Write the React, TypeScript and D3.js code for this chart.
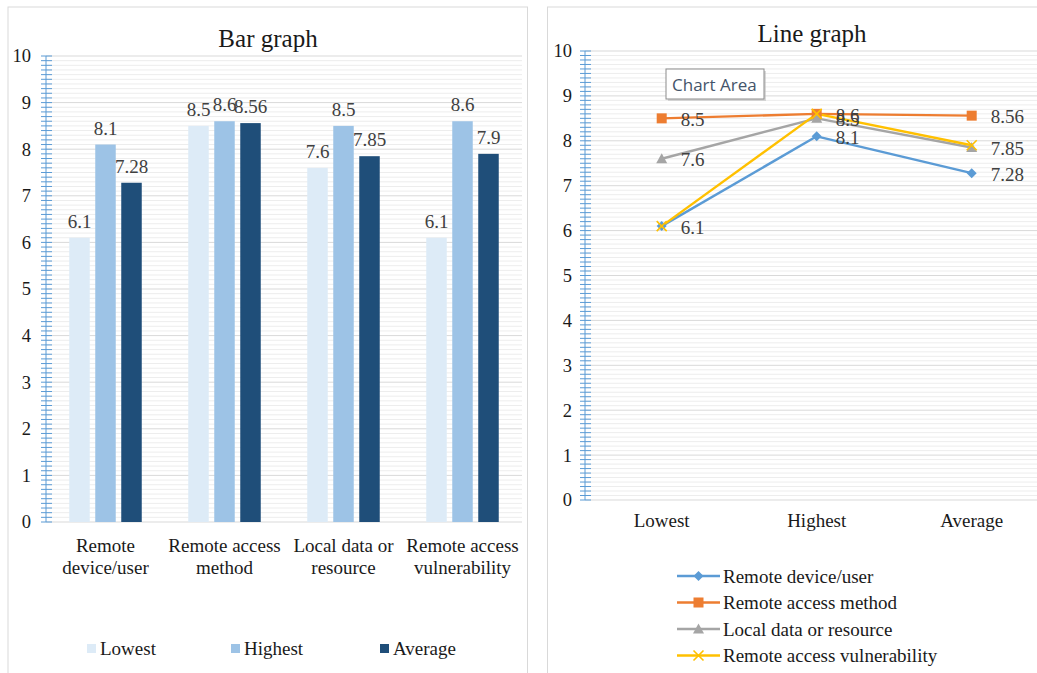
import React from "react";
import * as d3 from "d3";

const barCategories = [["Remote", "device/user"], ["Remote access", "method"], ["Local data or", "resource"], ["Remote access", "vulnerability"]];
const barSeriesNames = ["Lowest", "Highest", "Average"];
const lowestVals = [6.1, 8.5, 7.6, 6.1];
const highestVals = [8.1, 8.6, 8.5, 8.6];
const averageVals = [7.28, 8.56, 7.85, 7.9];
const barColors = ["#DDEBF7", "#9DC3E6", "#1F4E79"];

const lineCategories = ["Lowest", "Highest", "Average"];
const lineSeriesNames = ["Remote device/user", "Remote access method", "Local data or resource", "Remote access vulnerability"];
const remoteDeviceVals = [6.1, 8.1, 7.28];
const remoteMethodVals = [8.5, 8.6, 8.56];
const localDataVals = [7.6, 8.5, 7.85];
const remoteVulnVals = [6.1, 8.6, 7.9];
const lineColors = ["#5B9BD5", "#ED7D31", "#A5A5A5", "#FFC000"];
const yTicks = [0, 1, 2, 3, 4, 5, 6, 7, 8, 9, 10];

const FONT = "'Liberation Serif', 'Times New Roman', serif";
const TXT = "#1a1a1a";
const LBL = "#404040";
const AXIS = "#5B9BD5";

function Marker({ kind, x, y, color }: { kind: number; x: number; y: number; color: string }) {
  if (kind === 0) {
    const s = 5;
    return <path d={`M${x},${y - s}L${x + s},${y}L${x},${y + s}L${x - s},${y}Z`} fill={color} />;
  }
  if (kind === 1) return <rect x={x - 5} y={y - 5} width={10} height={10} fill={color} />;
  if (kind === 2) return <path d={`M${x},${y - 5.5}L${x + 5.5},${y + 4.5}L${x - 5.5},${y + 4.5}Z`} fill={color} />;
  return <path d={`M${x - 5},${y - 5}L${x + 5},${y + 5}M${x + 5},${y - 5}L${x - 5},${y + 5}`} stroke={color} strokeWidth={1.6} fill="none" />;
}

function YAxisGrid({ y, x0, x1, labelX }: { y: d3.ScaleLinear<number, number>; x0: number; x1: number; labelX: number }) {
  const minor = d3.range(0, 100).map((i) => i / 10).filter((v) => Math.abs(v - Math.round(v)) > 1e-6);
  return (
    <g>
      {minor.map((v) => (
        <line key={"mg" + v} x1={x0} x2={x1} y1={y(v)} y2={y(v)} stroke="#EDEDED" strokeWidth={1} />
      ))}
      {yTicks.map((v) => (
        <line key={"g" + v} x1={x0} x2={x1} y1={y(v)} y2={y(v)} stroke="#D9D9D9" strokeWidth={1} />
      ))}
      {minor.map((v) => (
        <line key={"mt" + v} x1={x0 - 5} x2={x0 + 6} y1={y(v)} y2={y(v)} stroke={AXIS} strokeWidth={1} />
      ))}
      {yTicks.map((v) => (
        <line key={"t" + v} x1={x0 - 5} x2={x0 + 6} y1={y(v)} y2={y(v)} stroke={AXIS} strokeWidth={1} />
      ))}
      <line x1={x0} x2={x0} y1={y(10)} y2={y(0)} stroke={AXIS} strokeWidth={1} />
      {yTicks.map((v) => (
        <text key={"l" + v} x={labelX} y={y(v)} dy="0.35em" textAnchor="end" fontSize={18.5} fill={TXT} fontFamily={FONT}>
          {v}
        </text>
      ))}
    </g>
  );
}

export default function App() {
  // Bar chart
  const bx0 = 46, bx1 = 522;
  const by = d3.scaleLinear().domain([0, 10]).range([522, 56]);
  const bxBand = d3.scaleBand<number>().domain(d3.range(barCategories.length)).range([bx0, bx1]);
  const barW = 20.5, gap = 5.5;
  const inner = d3.scaleBand<number>().domain([0, 1, 2]).range([0, 3 * barW + 2 * gap]).paddingInner(gap / (barW + gap));
  const barVals = [lowestVals, highestVals, averageVals];

  // Line chart
  const lx0 = 585;
  const ly = d3.scaleLinear().domain([0, 10]).range([500, 51]);
  const lxBand = d3.scalePoint<string>().domain(lineCategories).range([661.7, 971.7]);
  const step = lxBand.step();
  const lx1 = 971.7 + step / 2;
  const lineVals = [remoteDeviceVals, remoteMethodVals, localDataVals, remoteVulnVals];
  const lineGen = d3.line<number>().x((_, i) => lxBand(lineCategories[i]) as number).y((v) => ly(v));

  return (
    <svg width={1037} height={673} style={{ position: "absolute", left: 0, top: 0, background: "#fff" }}>
      <rect x={0} y={0} width={1037} height={673} fill="#fff" />
      {/* panels */}
      <rect x={8} y={7} width={519.5} height={700} fill="#fff" stroke="#D9D9D9" strokeWidth={1} />
      <rect x={547.5} y={7} width={520} height={700} fill="#fff" stroke="#D9D9D9" strokeWidth={1} />

      {/* Bar chart */}
      <text x={268} y={47} textAnchor="middle" fontSize={25} fill={TXT} fontFamily={FONT}>Bar graph</text>
      <YAxisGrid y={by} x0={bx0} x1={bx1} labelX={31} />
      {barCategories.map((cat, ci) => {
        const gx = (bxBand(ci) as number) + bxBand.bandwidth() / 2 - inner.range()[1] / 2;
        return (
          <g key={"c" + ci}>
            {barVals.map((vals, si) => {
              const x = gx + (inner(si) as number);
              const w = inner.bandwidth();
              return (
                <g key={"b" + si}>
                  <rect x={x} y={by(vals[ci])} width={w} height={by(0) - by(vals[ci])} fill={barColors[si]} />
                  <text x={x + w / 2} y={by(vals[ci]) - 10} textAnchor="middle" fontSize={19} fill={LBL} fontFamily={FONT}>
                    {vals[ci]}
                  </text>
                </g>
              );
            })}
            {cat.map((line, li) => (
              <text key={li} x={(bxBand(ci) as number) + bxBand.bandwidth() / 2} y={552 + li * 22} textAnchor="middle" fontSize={19} fill={TXT} fontFamily={FONT}>
                {line}
              </text>
            ))}
          </g>
        );
      })}
      {barSeriesNames.map((n, i) => {
        const lx = [87, 231, 380][i];
        return (
          <g key={"bl" + i}>
            <rect x={lx} y={644} width={9} height={9} fill={barColors[i]} />
            <text x={lx + 13} y={655} fontSize={19} fill={TXT} fontFamily={FONT}>{n}</text>
          </g>
        );
      })}

      {/* Line chart */}
      <text x={812} y={42} textAnchor="middle" fontSize={25} fill={TXT} fontFamily={FONT}>Line graph</text>
      <YAxisGrid y={ly} x0={lx0} x1={lx1} labelX={572} />
      {lineCategories.map((c) => (
        <text key={c} x={lxBand(c) as number} y={527} textAnchor="middle" fontSize={19} fill={TXT} fontFamily={FONT}>{c}</text>
      ))}
      {lineVals.map((vals, si) => (
        <path key={"ln" + si} d={lineGen(vals) as string} fill="none" stroke={lineColors[si]} strokeWidth={2.4} strokeLinejoin="round" />
      ))}
      {lineVals.map((vals, si) =>
        vals.map((v, i) => (
          <Marker key={"m" + si + i} kind={si} x={lxBand(lineCategories[i]) as number} y={ly(v)} color={lineColors[si]} />
        ))
      )}
      {lineVals.slice(0, 3).map((vals, si) =>
        vals.map((v, i) => (
          <text key={"dl" + si + i} x={(lxBand(lineCategories[i]) as number) + 19} y={ly(v) + 1} dy="0.35em" fontSize={19} fill={LBL} fontFamily={FONT}>
            {v}
          </text>
        ))
      )}
      {/* Chart Area tooltip */}
      <g>
        <rect x={668} y={71} width={98} height={30} fill="#BFBFBF" opacity={0.6} />
        <rect x={666} y={69} width={98} height={30} fill="#fff" stroke="#8C8C8C" strokeWidth={1} />
        <text x={672} y={91} fontSize={17} fill="#44546A" fontFamily="'Open Sans', 'DejaVu Sans', sans-serif">Chart Area</text>
      </g>
      {/* legend */}
      {lineSeriesNames.map((n, i) => {
        const yy = 576 + i * 26.5;
        return (
          <g key={"ll" + i}>
            <line x1={677} x2={720} y1={yy} y2={yy} stroke={lineColors[i]} strokeWidth={2.4} />
            <Marker kind={i} x={698.5} y={yy} color={lineColors[i]} />
            <text x={723} y={yy} dy="0.35em" fontSize={19} fill={TXT} fontFamily={FONT}>{n}</text>
          </g>
        );
      })}
    </svg>
  );
}
